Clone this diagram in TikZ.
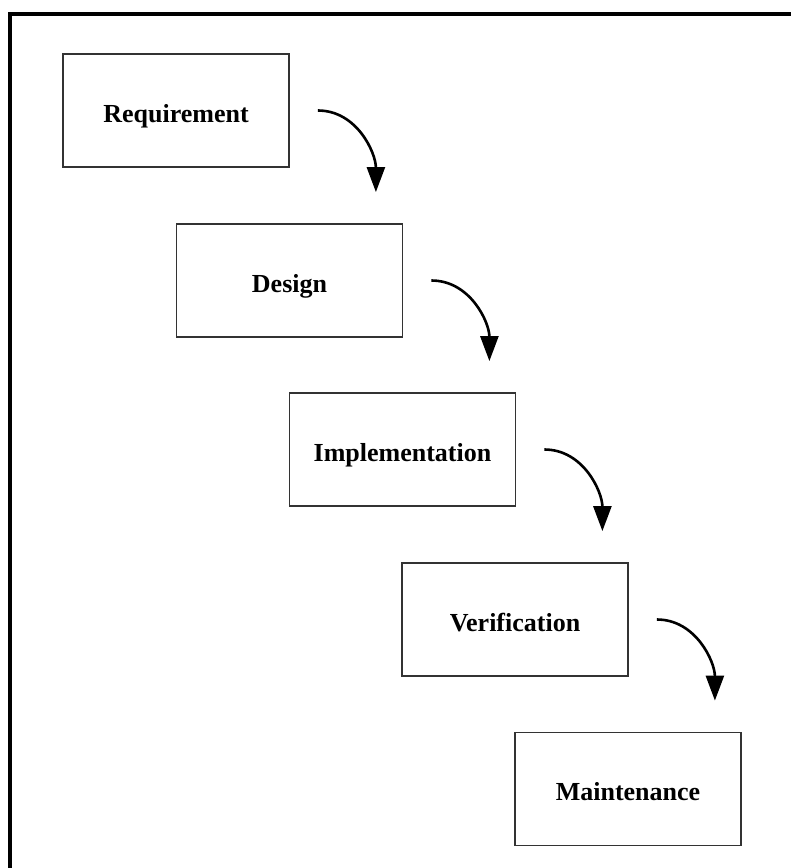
\documentclass[tikz,border=0pt]{standalone}
\usepackage{fontspec}
\setmainfont{Liberation Serif}
\usetikzlibrary{arrows.meta}
\begin{document}
\begin{tikzpicture}[x=1pt,y=-1pt,
  phase/.style={draw=black!80, line width=1.8pt, fill=white,
    minimum width=226pt, minimum height=113pt, inner sep=0pt,
    text height=24pt, text depth=1pt,
    font=\fontsize{26}{30}\selectfont\bfseries},
  flow/.style={line width=2.6pt, -{Triangle[length=25pt,width=18pt]}}]
  \useasboundingbox (0,0) rectangle (791,868);
  \fill[white] (0,0) rectangle (791,868);
  % open frame along the top and left
  \draw[line width=3.5pt] (10,868) -- (10,14) -- (791,14);

  \node[phase] (req) at (176,110.5) {Requirement};
  \node[phase] (des) at (289.5,280.5) {Design};
  \node[phase] (imp) at (402.5,449.5) {Implementation};
  \node[phase] (ver) at (515,619.5) {Verification};
  \node[phase] (mnt) at (628,789) {Maintenance};

  % curved arrows between consecutive phases
  \foreach \a/\b in {req/des, des/imp, imp/ver, ver/mnt}{
    \coordinate (s-\a) at ([xshift=28pt]\a.east);
    \coordinate (x-\a) at ([xshift=86pt]\a.east);
    \coordinate (y-\a) at ([yshift=31pt]\b.north);
    \coordinate (e-\a) at (x-\a |- y-\a);
    \draw[flow] (s-\a) to[out=0,in=90] (e-\a);
  }
\end{tikzpicture}
\end{document}
